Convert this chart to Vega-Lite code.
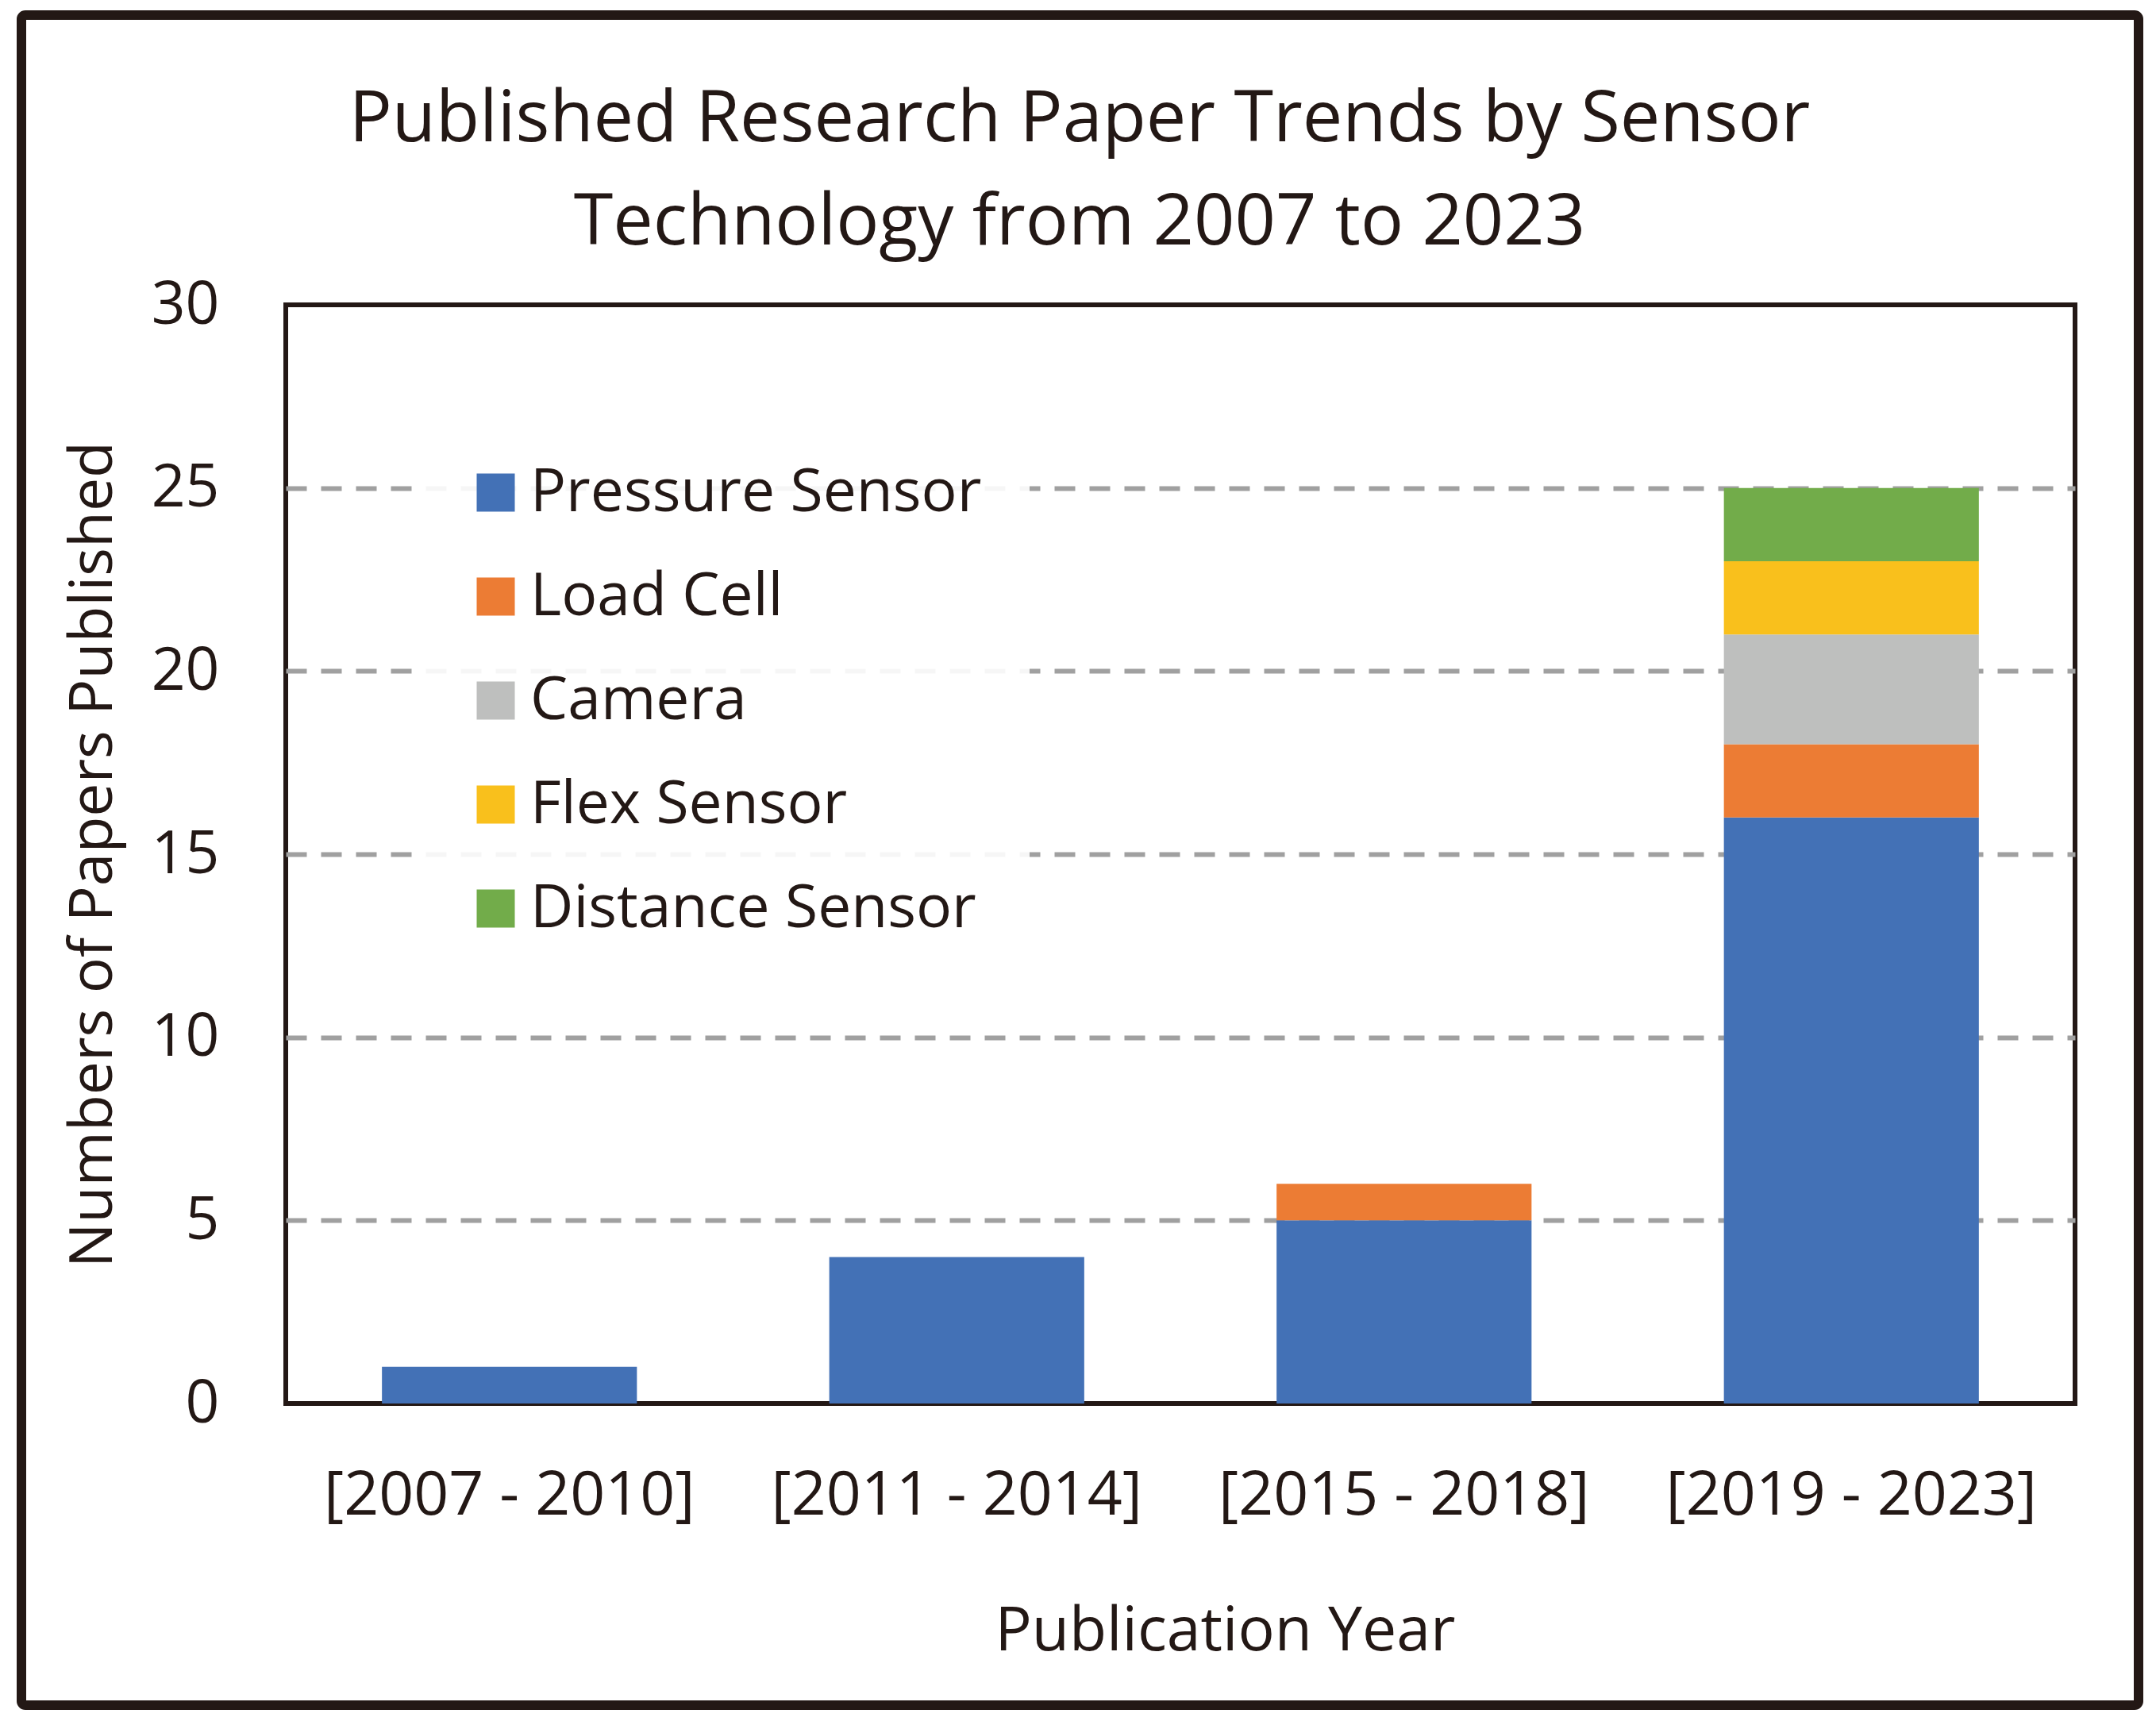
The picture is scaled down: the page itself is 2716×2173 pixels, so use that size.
{
  "$schema": "https://vega.github.io/schema/vega-lite/v6.json",
  "width": 2254,
  "height": 1384,
  "autosize": {"type": "none"},
  "padding": {"left": 360, "top": 384, "right": 102, "bottom": 405},
  "background": "white",
  "title": {
    "text": ["Published Research Paper Trends by Sensor", "Technology from 2007 to 2023"],
    "fontSize": 90,
    "font": "Open Sans",
    "fontWeight": "normal",
    "color": "#231815",
    "anchor": "middle",
    "frame": "group",
    "dx": -127,
    "offset": -385,
    "lineHeight": 130,
    "baseline": "alphabetic"
  },
  "layer": [
    {
      "data": {"values": [{}]},
      "mark": {"type": "rect", "fillOpacity": 0, "stroke": "#231815", "strokeWidth": 12, "cornerRadius": 5},
      "encoding": {
        "x": {"value": -333},
        "x2": {"value": 2334},
        "y": {"value": -365},
        "y2": {"value": 1764}
      }
    },
    {
      "data": {
        "values": [
          {"period": "[2007 - 2010]", "sensor": "Pressure Sensor", "rank": 1, "papers": 1},
          {"period": "[2011 - 2014]", "sensor": "Pressure Sensor", "rank": 1, "papers": 4},
          {"period": "[2015 - 2018]", "sensor": "Pressure Sensor", "rank": 1, "papers": 5},
          {"period": "[2015 - 2018]", "sensor": "Load Cell", "rank": 2, "papers": 1},
          {"period": "[2019 - 2023]", "sensor": "Pressure Sensor", "rank": 1, "papers": 16},
          {"period": "[2019 - 2023]", "sensor": "Load Cell", "rank": 2, "papers": 2},
          {"period": "[2019 - 2023]", "sensor": "Camera", "rank": 3, "papers": 3},
          {"period": "[2019 - 2023]", "sensor": "Flex Sensor", "rank": 4, "papers": 2},
          {"period": "[2019 - 2023]", "sensor": "Distance Sensor", "rank": 5, "papers": 2}
        ]
      },
      "mark": {"type": "bar"},
      "encoding": {
        "x": {
          "field": "period",
          "type": "nominal",
          "sort": null,
          "scale": {"paddingInner": 0.43, "paddingOuter": 0.215},
          "axis": {
            "title": "Publication Year",
            "titleFontSize": 77,
            "titleFont": "Open Sans",
            "titleFontWeight": "normal",
            "titleColor": "#231815",
            "titleX": 1183,
            "titleY": 310,
            "titleBaseline": "alphabetic",
            "titleAlign": "center",
            "labelAngle": 0,
            "labelFontSize": 77,
            "labelFont": "Open Sans",
            "labelColor": "#231815",
            "labelBaseline": "alphabetic",
            "labelPadding": 139,
            "labelLimit": 0,
            "labelOverlap": false,
            "ticks": false,
            "tickSize": 0,
            "domain": false,
            "grid": false
          }
        },
        "y": {
          "field": "papers",
          "type": "quantitative",
          "stack": "zero",
          "scale": {"domain": [0, 30], "nice": false},
          "axis": {
            "values": [0, 5, 10, 15, 20, 25, 30],
            "title": "Numbers of Papers Published",
            "titleFontSize": 75,
            "titleFont": "Open Sans",
            "titleFontWeight": "normal",
            "titleColor": "#231815",
            "titleX": -220,
            "titleY": 692,
            "titleAngle": 270,
            "titleBaseline": "alphabetic",
            "titleAlign": "center",
            "labelFontSize": 75,
            "labelFont": "Open Sans",
            "labelColor": "#231815",
            "labelPadding": 84,
            "ticks": false,
            "tickSize": 0,
            "domain": false,
            "grid": true,
            "gridColor": "#a0a0a0",
            "gridWidth": 6,
            "gridDash": [26, 18],
            "gridOpacity": {"condition": {"test": "datum.value == 0 || datum.value == 30", "value": 0}, "value": 1}
          }
        },
        "color": {
          "field": "sensor",
          "type": "nominal",
          "scale": {
            "domain": ["Pressure Sensor", "Load Cell", "Camera", "Flex Sensor", "Distance Sensor"],
            "range": ["#4371B6", "#EC7C34", "#BEBFBE", "#F9C01C", "#72AC4A"]
          },
          "legend": {
            "orient": "none",
            "legendX": 167,
            "legendY": 139,
            "title": null,
            "symbolType": "square",
            "symbolSize": 2304,
            "symbolStrokeWidth": 0,
            "symbolOpacity": 1,
            "labelFontSize": 75,
            "labelFont": "Open Sans",
            "labelColor": "#231815",
            "labelOffset": 6,
            "labelLimit": 0,
            "rowPadding": 55,
            "padding": 60,
            "fillColor": "rgba(255,255,255,0.9)"
          }
        },
        "order": {"field": "rank", "type": "quantitative", "sort": "ascending"}
      }
    }
  ],
  "config": {
    "view": {"stroke": "#231815", "strokeWidth": 6}
  }
}
